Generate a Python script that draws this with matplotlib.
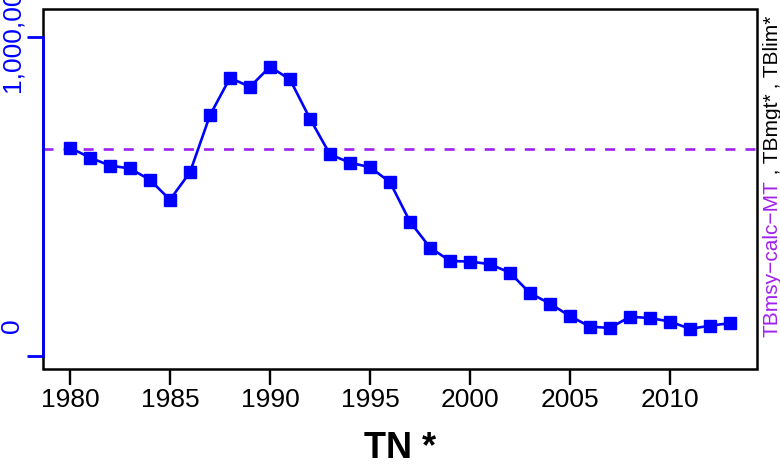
import matplotlib
matplotlib.use("Agg")
import matplotlib.pyplot as plt
from matplotlib.patches import Rectangle

plt.rcParams['font.family'] = ['Liberation Sans', 'DejaVu Sans']

# biomass series (TN *)
years = list(range(1980, 2014))
biomass = [653000, 622000, 597000, 588000, 552000, 490000, 576000, 755000,
           872000, 844000, 907000, 867000, 744000, 632000, 606000, 592000,
           545000, 421000, 340000, 298000, 296000, 288000, 261000, 197000,
           164000, 125000, 92000, 88000, 123000, 119000, 108000, 85000,
           95000, 103000]
tbmsy = 649000
x_ticks = [1980, 1985, 1990, 1995, 2000, 2005, 2010]
y_ticks = [0, 1000000]
y_labels = ["0", "1,000,000"]
label_pieces = [("TBmsy\u2212calc\u2212MT", "#A020F0"),
                (" , TBmgt*", "black"),
                (" , TBlim*", "black")]

BLUE = '#0000FF'
W, H = 780, 466

fig = plt.figure(figsize=(7.8, 4.66), dpi=100)
ax = fig.add_axes([43 / W, 1 - 369 / H, (757 - 43) / W, 360 / H])

ax.plot(years, biomass, color=BLUE, lw=1.9, marker='s', ms=8.8,
        mfc=BLUE, mec=BLUE, zorder=3)
ax.axhline(tbmsy, color='#A020F0', lw=1.9, dashes=(3.8, 3.8), zorder=2)

ax.set_xlim(1978.65, 2014.35)
ax.set_ylim(-40800, 1088000)

# frame in black, left axis in blue on top of it
for s in ax.spines.values():
    s.set_visible(False)
ax.add_patch(Rectangle((0, 0), 1, 1, transform=ax.transAxes, fill=False,
                       ec='black', lw=1.8, clip_on=False, zorder=4))
ax.spines['left'].set_visible(True)
ax.spines['left'].set_color(BLUE)
ax.spines['left'].set_linewidth(2.0)
ax.spines['left'].set_bounds(y_ticks[0], y_ticks[-1])
ax.spines['left'].set_zorder(5)

ax.set_xticks(x_ticks)
ax.tick_params(axis='x', length=11.5, width=1.7, pad=2, labelsize=19,
               colors='black')
ax.set_yticks(y_ticks)
ax.set_yticklabels(['', ''])
ax.tick_params(axis='y', length=11.5, width=2.0, colors=BLUE)

# y labels sit off their ticks in the reference
ax.annotate(y_labels[0], xy=(0, y_ticks[0]), xycoords=('axes fraction', 'data'),
            xytext=(-22.3, 21.6), textcoords='offset points', rotation=90,
            ha='center', va='center', fontsize=19, color=BLUE)
ax.annotate(y_labels[1], xy=(0, y_ticks[1]), xycoords=('axes fraction', 'data'),
            xytext=(-22.3, -39.6), textcoords='offset points', rotation=90,
            ha='center', va='bottom', fontsize=19, color=BLUE,
            annotation_clip=False)

fig.text(400 / W, 1 - 458 / H, "TN *", ha='center', va='baseline',
         fontsize=26, fontweight='bold')

# right side label, coloured pieces stacked upward
txt = fig.text(772 / W, 1 - 337 / H, label_pieces[0][0], rotation=90,
               ha='center', va='bottom', fontsize=15, color=label_pieces[0][1])
for s, c in label_pieces[1:]:
    txt = ax.annotate(s, xy=(0.5, 1), xycoords=txt, rotation=90,
                      ha='center', va='bottom', fontsize=15, color=c,
                      annotation_clip=False)

fig.savefig('out.png', dpi=100)
